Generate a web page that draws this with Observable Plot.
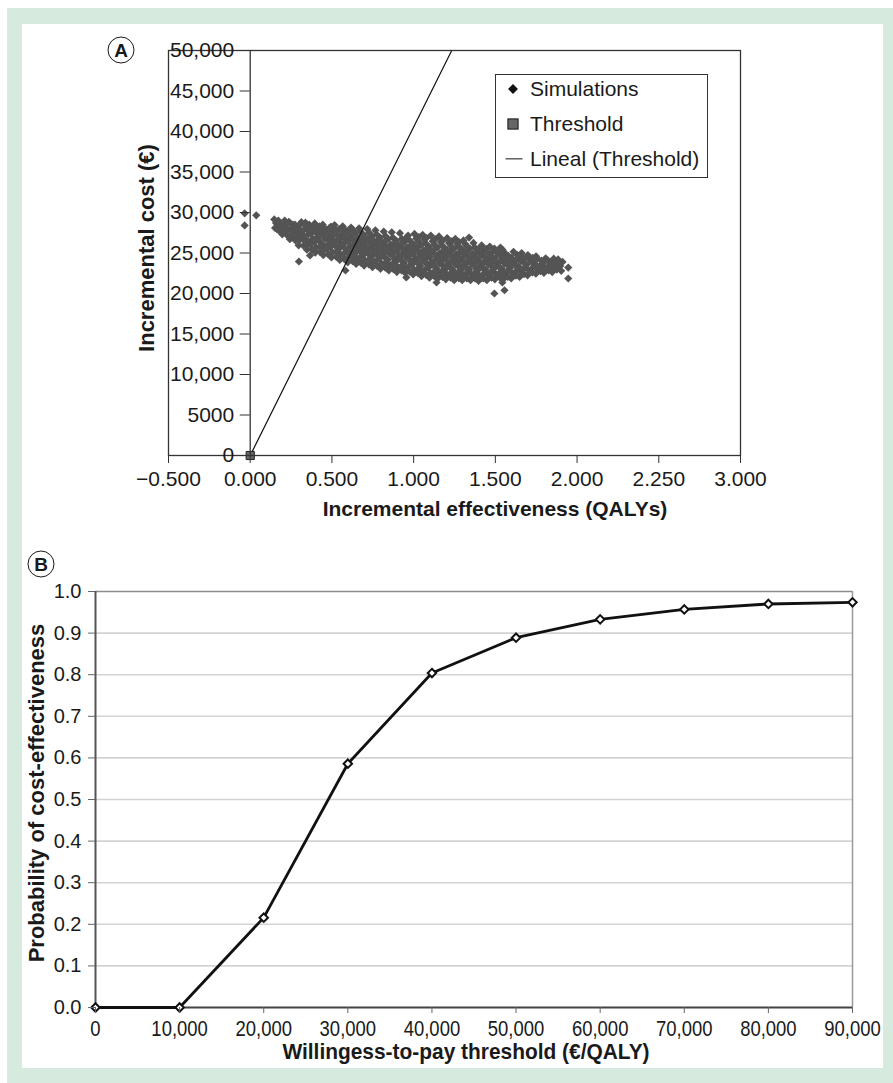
<!DOCTYPE html>
<html>
<head>
<meta charset="utf-8">
<script src="https://cdn.jsdelivr.net/npm/d3@7"></script>
<script src="https://cdn.jsdelivr.net/npm/@observablehq/plot@0.6"></script>
<style>
  body { margin: 0; background: #fff; }
  #page { position: relative; width: 893px; height: 1083px; overflow: hidden;
          font-family: "Liberation Sans", Arial, Helvetica, sans-serif; color: #1a1a1a; }
  #green { position: absolute; left: 7px; top: 8px; right: 0; bottom: 0; background: #d6ebdd; }
  #white { position: absolute; left: 22px; top: 24px; width: 861px; height: 1044px; background: #fff; }
  .chart { position: absolute; left: 0; }
  .chart svg { overflow: visible; }
  .title { position: absolute; white-space: nowrap; font-weight: bold; transform: translate(-50%, -50%); }
  .rot { transform: translate(-50%, -50%) rotate(-90deg); }
  .narrow { transform: translate(-50%, -50%) scaleX(0.95); }
  .badge { position: absolute; width: 25px; height: 25px; border: 1.6px solid #1a1a1a; border-radius: 50%;
           transform: translate(-50%, -50%); font-weight: bold; font-size: 19px; line-height: 25px; text-align: center; }
  #legend { position: absolute; left: 495px; top: 74px; width: 211px; height: 102px; border: 1.2px solid #333;
            background: #fff; font-size: 21px; }
  #legend .row { position: absolute; left: 34px; height: 24px; line-height: 24px; transform: translateY(-50%); white-space: nowrap; }
  #legend .sym { position: absolute; transform: translate(-50%, -50%); }
</style>
</head>
<body>
<div id="page">
  <div id="green"></div>
  <div id="white"></div>
  <div id="chartA" class="chart" style="top:0px"></div>
  <div id="chartB" class="chart" style="top:530px"></div>
  <div class="badge" style="left:121px; top:50px">A</div>
  <div class="badge" style="left:41px; top:564px">B</div>
  <div class="title" style="left:495px; top:509px; font-size:21px">Incremental effectiveness (QALYs)</div>
  <div class="title rot" style="left:147px; top:248px; font-size:22px">Incremental cost (€)</div>
  <div class="title rot" style="left:37px; top:793px; font-size:22px">Probability of cost-effectiveness</div>
  <div class="title narrow" style="left:466px; top:1052px; font-size:22px">Willingess-to-pay threshold (€/QALY)</div>
  <div id="legend">
    <div class="sym" style="left:17px; top:14px; width:7px; height:7px; background:#111; transform:translate(-50%,-50%) rotate(45deg)"></div>
    <div class="row" style="top:14px">Simulations</div>
    <div class="sym" style="left:17px; top:49px; width:9px; height:9px; background:#666; border:1.2px solid #222"></div>
    <div class="row" style="top:49px">Threshold</div>
    <div class="sym" style="left:18px; top:84px; width:17px; height:1.3px; background:#111"></div>
    <div class="row" style="top:84px">Lineal (Threshold)</div>
  </div>
</div>
<script>
// ---------- Panel A data ----------
const xTicksA = [-0.5, 0, 0.5, 1, 1.5, 2, 2.5, 3];
const xTickLabelsA = ["\u22120.500", "0.000", "0.500", "1.000", "1.500", "2.000", "2.250", "3.000"];
const yTicksA = [0, 5000, 10000, 15000, 20000, 25000, 30000, 35000, 40000, 45000, 50000];
const yTickLabelsA = ["0", "5000", "10,000", "15,000", "20,000", "25,000", "30,000", "35,000", "40,000", "45,000", "50,000"];
const thresholdPoint = [[0, 0]];
const linealThreshold = [[0, 0], [1.233, 50000]];
// simulated (incremental QALYs, incremental cost) pairs
const simulations = [
  [-0.034,29900],[0.037,29650],[-0.034,28400],
  [0.152,28100],[0.158,28700],[0.147,29150],[0.171,28400],[0.165,27900],
  [0.196,27300],[0.203,27900],[0.188,28500],[0.211,29000],[0.207,28250],[0.219,27600],
  [0.243,26700],[0.256,27300],[0.248,27950],[0.261,28500],[0.237,28850],[0.268,27650],[0.272,26900],
  [0.296,25950],[0.302,26600],[0.291,27250],[0.308,27800],[0.299,28400],[0.313,28800],[0.318,27100],
  [0.298,23950],[0.366,24690],
  [0.347,25400],[0.352,26000],[0.341,26650],[0.356,27300],[0.349,27900],[0.361,28500],[0.338,28750],[0.366,26300],
  [0.398,25050],[0.404,25700],[0.392,26350],[0.409,26950],[0.401,27600],[0.412,28200],[0.395,28650],[0.418,27250],
  [0.447,24750],[0.452,25400],[0.441,26050],[0.458,26700],[0.449,27300],[0.461,27950],[0.444,28500],[0.466,25750],
  [0.497,24450],[0.503,25100],[0.491,25750],[0.508,26400],[0.499,27000],[0.511,27650],[0.494,28250],[0.516,28450],[0.505,26700],
  [0.548,24150],[0.553,24800],[0.541,25450],[0.557,26100],[0.549,26700],[0.561,27350],[0.544,27950],[0.566,28300],[0.552,25800],
  [0.583,22840],
  [0.597,23850],[0.604,24500],[0.592,25150],[0.609,25800],[0.601,26400],[0.612,27050],[0.595,27650],[0.617,28150],[0.606,24950],
  [0.648,23650],[0.653,24300],[0.641,24950],[0.658,25600],[0.649,26200],[0.661,26850],[0.644,27450],[0.666,28050],[0.655,25300],
  [0.697,23450],[0.703,24100],[0.691,24750],[0.708,25400],[0.699,26000],[0.711,26650],[0.694,27250],[0.716,27950],[0.702,25700],
  [0.748,23250],[0.753,23900],[0.741,24550],[0.757,25200],[0.749,25800],[0.761,26450],[0.744,27050],[0.766,27800],[0.755,24850],
  [0.797,23050],[0.804,23700],[0.792,24350],[0.809,25000],[0.801,25600],[0.812,26250],[0.795,26900],[0.817,27650],[0.806,25350],
  [0.848,22850],[0.853,23500],[0.841,24150],[0.858,24800],[0.849,25400],[0.861,26050],[0.844,26700],[0.866,27550],[0.852,25100],
  [0.897,22650],[0.903,23300],[0.891,23950],[0.908,24600],[0.899,25200],[0.911,25850],[0.894,26500],[0.916,27450],[0.905,24300],
  [0.948,22550],[0.953,23150],[0.941,23800],[0.957,24450],[0.949,25050],[0.961,25700],[0.944,26350],[0.966,27150],[0.955,26850],
  [0.955,21980],
  [0.997,22350],[1.003,22950],[0.991,23600],[1.008,24250],[0.999,24850],[1.011,25500],[0.994,26150],[1.016,26800],[1.005,27350],
  [1.048,22150],[1.053,22750],[1.041,23400],[1.057,24050],[1.049,24700],[1.061,25350],[1.044,26000],[1.066,26650],[1.055,27250],
  [1.097,21950],[1.103,22550],[1.091,23200],[1.108,23850],[1.099,24500],[1.111,25150],[1.094,25800],[1.116,26450],[1.105,27150],
  [1.140,21360],
  [1.148,21850],[1.153,22450],[1.141,23050],[1.157,23700],[1.149,24350],[1.161,25000],[1.144,25650],[1.166,26350],[1.155,27050],
  [1.197,21750],[1.203,22350],[1.191,22950],[1.208,23600],[1.199,24250],[1.211,24900],[1.194,25550],[1.216,26250],[1.205,26850],
  [1.248,21650],[1.253,22250],[1.241,22900],[1.257,23550],[1.249,24200],[1.261,24850],[1.244,25500],[1.266,26150],[1.255,26750],
  [1.297,21650],[1.303,22250],[1.291,22900],[1.308,23550],[1.299,24200],[1.311,24850],[1.294,25500],[1.316,26100],[1.305,26550],
  [1.326,21850],[1.339,26900],
  [1.348,21650],[1.353,22300],[1.341,22950],[1.357,23600],[1.349,24250],[1.361,24900],[1.344,25550],[1.366,26250],
  [1.397,21550],[1.403,22200],[1.391,22850],[1.408,23500],[1.399,24150],[1.411,24800],[1.394,25450],[1.416,25950],
  [1.448,21650],[1.453,22300],[1.441,22950],[1.457,23600],[1.449,24250],[1.461,24900],[1.444,25500],[1.466,25800],
  [1.494,20000],[1.556,20400],[1.531,25680],[1.543,21360],
  [1.497,21750],[1.503,22400],[1.491,23050],[1.508,23700],[1.499,24350],[1.511,25000],[1.494,25550],
  [1.548,21750],[1.553,22400],[1.541,23050],[1.557,23700],[1.549,24350],[1.561,24950],[1.544,25400],
  [1.597,21850],[1.603,22500],[1.591,23150],[1.608,23800],[1.599,24400],[1.611,25150],
  [1.648,22050],[1.653,22700],[1.641,23350],[1.657,24000],[1.649,24600],[1.661,25000],
  [1.697,22250],[1.703,22900],[1.691,23550],[1.708,24200],[1.699,24750],
  [1.748,22450],[1.753,23100],[1.741,23700],[1.757,24300],[1.749,24600],
  [1.797,22550],[1.803,23150],[1.791,23750],[1.808,24350],
  [1.848,22650],[1.853,23250],[1.841,23850],[1.857,24300],
  [1.884,24200],[1.897,23400],[1.903,22800],[1.911,23900],
  [1.946,23200],[1.946,21850],
  // second pass over the dense core
  [0.176,27800],[0.181,28450],[0.172,29000],
  [0.226,27200],[0.231,27850],[0.222,28500],
  [0.277,26550],[0.271,27200],[0.282,27850],[0.274,28500],
  [0.326,25900],[0.331,26550],[0.322,27200],[0.329,27850],[0.335,28450],
  [0.376,25450],[0.371,26100],[0.382,26750],[0.374,27400],[0.379,28050],
  [0.426,25150],[0.431,25800],[0.422,26450],[0.429,27100],[0.435,27750],[0.424,28300],
  [0.476,24850],[0.471,25500],[0.482,26150],[0.474,26800],[0.479,27450],[0.485,28100],
  [0.526,24550],[0.531,25200],[0.522,25850],[0.529,26500],[0.535,27150],[0.524,27800],
  [0.576,24250],[0.571,24900],[0.582,25550],[0.574,26200],[0.579,26850],[0.585,27500],[0.573,28000],
  [0.626,24000],[0.631,24650],[0.622,25300],[0.629,25950],[0.635,26600],[0.624,27250],[0.628,27850],
  [0.676,23800],[0.671,24450],[0.682,25100],[0.674,25750],[0.679,26400],[0.685,27050],[0.673,27700],
  [0.726,23600],[0.731,24250],[0.722,24900],[0.729,25550],[0.735,26200],[0.724,26850],[0.728,27500],
  [0.776,23400],[0.771,24050],[0.782,24700],[0.774,25350],[0.779,26000],[0.785,26650],[0.773,27300],
  [0.826,23200],[0.831,23850],[0.822,24500],[0.829,25150],[0.835,25800],[0.824,26450],[0.828,27100],
  [0.876,23000],[0.871,23650],[0.882,24300],[0.874,24950],[0.879,25600],[0.885,26250],[0.873,26900],
  [0.926,22850],[0.931,23500],[0.922,24150],[0.929,24800],[0.935,25450],[0.924,26100],[0.928,26750],
  [0.976,22700],[0.971,23350],[0.982,24000],[0.974,24650],[0.979,25300],[0.985,25950],[0.973,26600],
  [1.026,22500],[1.031,23150],[1.022,23800],[1.029,24450],[1.035,25100],[1.024,25750],[1.028,26400],[1.032,26950],
  [1.076,22300],[1.071,22950],[1.082,23600],[1.074,24250],[1.079,24900],[1.085,25550],[1.073,26200],[1.078,26850],
  [1.126,22150],[1.131,22800],[1.122,23450],[1.129,24100],[1.135,24750],[1.124,25400],[1.128,26050],[1.132,26700],
  [1.176,22050],[1.171,22700],[1.182,23350],[1.174,24000],[1.179,24650],[1.185,25300],[1.173,25950],[1.178,26550],
  [1.226,21950],[1.231,22600],[1.222,23250],[1.229,23900],[1.235,24550],[1.224,25200],[1.228,25850],[1.232,26450],
  [1.276,21900],[1.271,22550],[1.282,23200],[1.274,23850],[1.279,24500],[1.285,25150],[1.273,25800],[1.278,26350],
  [1.326,22550],[1.322,23200],[1.329,23850],[1.335,24500],[1.324,25150],[1.328,25800],
  [1.376,21850],[1.371,22500],[1.382,23150],[1.374,23800],[1.379,24450],[1.385,25100],[1.373,25700],
  [1.426,21850],[1.431,22500],[1.422,23150],[1.429,23800],[1.435,24450],[1.424,25100],[1.428,25550],
  [1.476,21950],[1.471,22600],[1.482,23250],[1.474,23900],[1.479,24550],[1.485,25200],
  [1.526,22000],[1.531,22650],[1.522,23300],[1.529,23950],[1.535,24600],[1.524,25150],
  [1.576,22050],[1.571,22700],[1.582,23350],[1.574,24000],[1.579,24650],
  [1.626,22200],[1.631,22850],[1.622,23500],[1.629,24150],[1.635,24750],
  [1.676,22400],[1.671,23050],[1.682,23700],[1.674,24350],
  [1.726,22600],[1.731,23250],[1.722,23900],[1.729,24400],
  [1.776,22750],[1.771,23400],[1.782,24050],
  [1.826,22850],[1.831,23500],[1.822,24050],
  [1.876,22950],[1.871,23600]
];

// ---------- Panel B data ----------
const wtpThresholds = [0, 10000, 20000, 30000, 40000, 50000, 60000, 70000, 80000, 90000];
const probCostEffective = [0, 0, 0.216, 0.586, 0.804, 0.889, 0.933, 0.957, 0.970, 0.974];
const xTickLabelsB = ["0", "10,000", "20,000", "30,000", "40,000", "50,000", "60,000", "70,000", "80,000", "90,000"];
const yTicksB = [0, 0.1, 0.2, 0.3, 0.4, 0.5, 0.6, 0.7, 0.8, 0.9, 1.0];
const yTickLabelsB = ["0.0", "0.1", "0.2", "0.3", "0.4", "0.5", "0.6", "0.7", "0.8", "0.9", "1.0"];

const baseFont = '"Liberation Sans", Arial, Helvetica, sans-serif';

// ---------- Panel A ----------
const domainA = [-0.5, 3];
const plotA = Plot.plot({
  width: 893, height: 530,
  marginLeft: 168, marginRight: 153, marginTop: 50, marginBottom: 75,
  style: { fontFamily: baseFont, fontSize: "21px", color: "#1a1a1a", background: "transparent", overflow: "visible" },
  x: { domain: domainA },
  y: { domain: [0, 50000] },
  marks: [
    Plot.dot(simulations, { x: d => d[0], y: d => d[1], symbol: "diamond2", r: 3.7, fill: "#545454" }),
    Plot.line(linealThreshold, { x: d => d[0], y: d => d[1], stroke: "#111", strokeWidth: 1.2 }),
    Plot.dot(thresholdPoint, { x: d => d[0], y: d => d[1], symbol: "square", r: 4.6, fill: "#666", stroke: "#222", strokeWidth: 1 }),
    Plot.frame({ stroke: "#333", strokeWidth: 1.3 }),
    Plot.ruleX([0], { stroke: "#333", strokeWidth: 1.3 }),
    Plot.axisX({ ticks: xTicksA, tickFormat: d => xTickLabelsA[xTicksA.indexOf(d)], tickSize: 8, tickPadding: 8,
                 label: null, stroke: "#333", fontSize: 21, fill: "#1a1a1a" }),
    Plot.axisY({ ticks: yTicksA, tickFormat: d => yTickLabelsA[yTicksA.indexOf(d)], tickSize: 10, tickPadding: 6,
                 dx: (0 - domainA[0]) / (domainA[1] - domainA[0]) * (893 - 168 - 153),
                 label: null, stroke: "#333", fontSize: 21, fill: "#1a1a1a" })
  ]
});
document.getElementById("chartA").appendChild(plotA);

// ---------- Panel B ----------
const rows = wtpThresholds.map((w, i) => ({ wtp: w, p: probCostEffective[i] }));
const plotB = Plot.plot({
  width: 893, height: 553,
  marginLeft: 95, marginRight: 41, marginTop: 61, marginBottom: 76,
  style: { fontFamily: baseFont, fontSize: "20px", color: "#1a1a1a", background: "transparent", overflow: "visible" },
  x: { domain: [0, 90000] },
  y: { domain: [0, 1] },
  marks: [
    Plot.ruleY(yTicksB.filter(d => d > 0 && d < 1), { stroke: "#d3d3d3", strokeWidth: 1.6 }),
    Plot.ruleY([1], { stroke: "#8c8c8c", strokeWidth: 1.6 }),
    Plot.ruleX([90000], { stroke: "#9a9a9a", strokeWidth: 1.5 }),
    Plot.ruleX([0], { stroke: "#555", strokeWidth: 2 }),
    Plot.ruleY([0], { stroke: "#444", strokeWidth: 2 }),
    Plot.line(rows, { x: "wtp", y: "p", stroke: "#111", strokeWidth: 2.8 }),
    Plot.dot(rows, { x: "wtp", y: "p", symbol: "diamond2", r: 3.8, fill: "#fff", stroke: "#111", strokeWidth: 2 }),
    Plot.axisX({ ticks: wtpThresholds, tickFormat: d => xTickLabelsB[wtpThresholds.indexOf(d)], tickSize: 6, tickPadding: 7,
                 label: null, stroke: "#666", fontSize: 22, fill: "#1a1a1a" }),
    Plot.axisY({ ticks: yTicksB, tickFormat: d => yTickLabelsB[yTicksB.indexOf(d)], tickSize: 7, tickPadding: 7,
                 label: null, stroke: "#666", fontSize: 20, fill: "#1a1a1a" })
  ]
});
document.getElementById("chartB").appendChild(plotB);
// condensed look for the willingness-to-pay tick labels
d3.select(plotB).selectAll('g[aria-label="x-axis tick label"] text').each(function() {
  const t = this.getAttribute("transform") || "";
  this.setAttribute("transform", t + " scale(0.84,1)");
});
</script>
</body>
</html>
